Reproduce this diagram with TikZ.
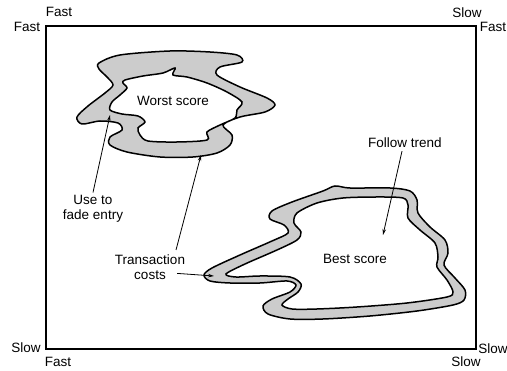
\documentclass[tikz,border=0pt]{standalone}
\usepackage{fontspec}
\setmainfont{Liberation Sans}
\usepackage{tikz}
\usetikzlibrary{arrows.meta, positioning}

\begin{document}
\begin{tikzpicture}[
    x=1pt, y=-1pt,
    lbl/.style={font=\fontsize{13.5}{14.5}\selectfont, align=center, inner sep=0pt},
    band/.style={draw, line width=1.5pt, fill=black!20, even odd rule},
    pointer/.style={-{Stealth[length=6pt, width=3.5pt]}, line width=0.8pt}
]
\useasboundingbox (0,0) rectangle (507,371);

% frame
\draw[line width=1.5pt] (46,26) rectangle (476,349);

% corner labels
\node[lbl] (tlx) at (59,12) {Fast};
\node[lbl] (tly) at (27,27) {Fast};
\node[lbl] (trx) at (467,13) {Slow};
\node[lbl] (try) at (493,27) {Fast};
\node[lbl] (bly) at (26,348) {Slow};
\node[lbl] (blx) at (58,362) {Fast};
\node[lbl] (bry) at (493,349) {Slow};
\node[lbl] (brx) at (466,362) {Slow};

% Worst score region
\path[band]
    plot[smooth cycle] coordinates {
        (99,63) (120,55) (170,51) (210,52) (237,55) (242,62) (220,67)
        (217,75) (240,87) (267,98) (275,105) (265,112) (240,117) (223,125)
        (232,135) (230,145) (217,153) (193,157) (160,157) (127,152)
        (110,145) (110,137) (122,130) (118,123) (100,121) (82,124)
        (77,117) (88,106) (105,93) (113,85) (107,77) (99,69)}
    plot[smooth cycle] coordinates {
        (125,80) (143,76) (163,73) (175,68) (173,75) (187,77) (207,83)
        (227,92) (242,102) (237,110) (235,118) (220,125) (207,132)
        (207,140) (177,142) (148,141) (140,135) (138,128) (145,122)
        (138,116) (122,114) (110,110) (112,102) (120,95) (127,88) (123,83)};
\node[lbl] (worst) at (173,101) {Worst score};

% Best score region
\path[band]
    plot[smooth cycle] coordinates {
        (204,275) (212,268) (240,255) (272,241) (288,233) (284,225)
        (270,219) (272,211) (292,202) (323,191) (335,186) (350,188)
        (390,188) (410,191) (417,200) (418,213) (430,227) (445,240)
        (448,253) (444,265) (455,278) (465,290) (464,300) (453,305)
        (417,311) (370,316) (323,319) (290,319) (268,314) (263,306)
        (272,299) (290,292) (296,285) (287,281) (260,283) (230,283)
        (210,281)}
    plot[smooth cycle] coordinates {
        (226,274) (245,264) (277,250) (297,240) (301,232) (294,223)
        (297,213) (317,203) (343,198) (377,197) (403,198) (408,205)
        (408,218) (420,230) (435,243) (438,257) (437,267) (447,280)
        (453,292) (447,297) (407,303) (357,307) (317,309) (292,309)
        (282,305) (288,299) (298,292) (301,284) (290,277) (260,276)
        (236,277)};
\node[lbl] (best) at (355,259) {Best score};

% labels
\node[lbl] (fade) at (93,209) {Use to\\fade entry};
\node[lbl] (cost) at (150,267) {Transaction\\costs};
\node[lbl] (trend) at (405,143) {Follow trend};

% arrow ends
\coordinate (worstleft) at (110,115);
\coordinate (worstbottom) at (201,155);
\coordinate (besttip) at (214,276);
\coordinate (bestin) at (383,235);

\draw[pointer] (fade.north) ++(0,-3) -- (worstleft);
\draw[pointer] (176,250) -- (worstbottom);
\draw[pointer] (cost.south east) ++(-8,-6) -- (besttip);
\draw[pointer] (trend.south) ++(-3,3) -- (bestin);

\end{tikzpicture}
\end{document}
